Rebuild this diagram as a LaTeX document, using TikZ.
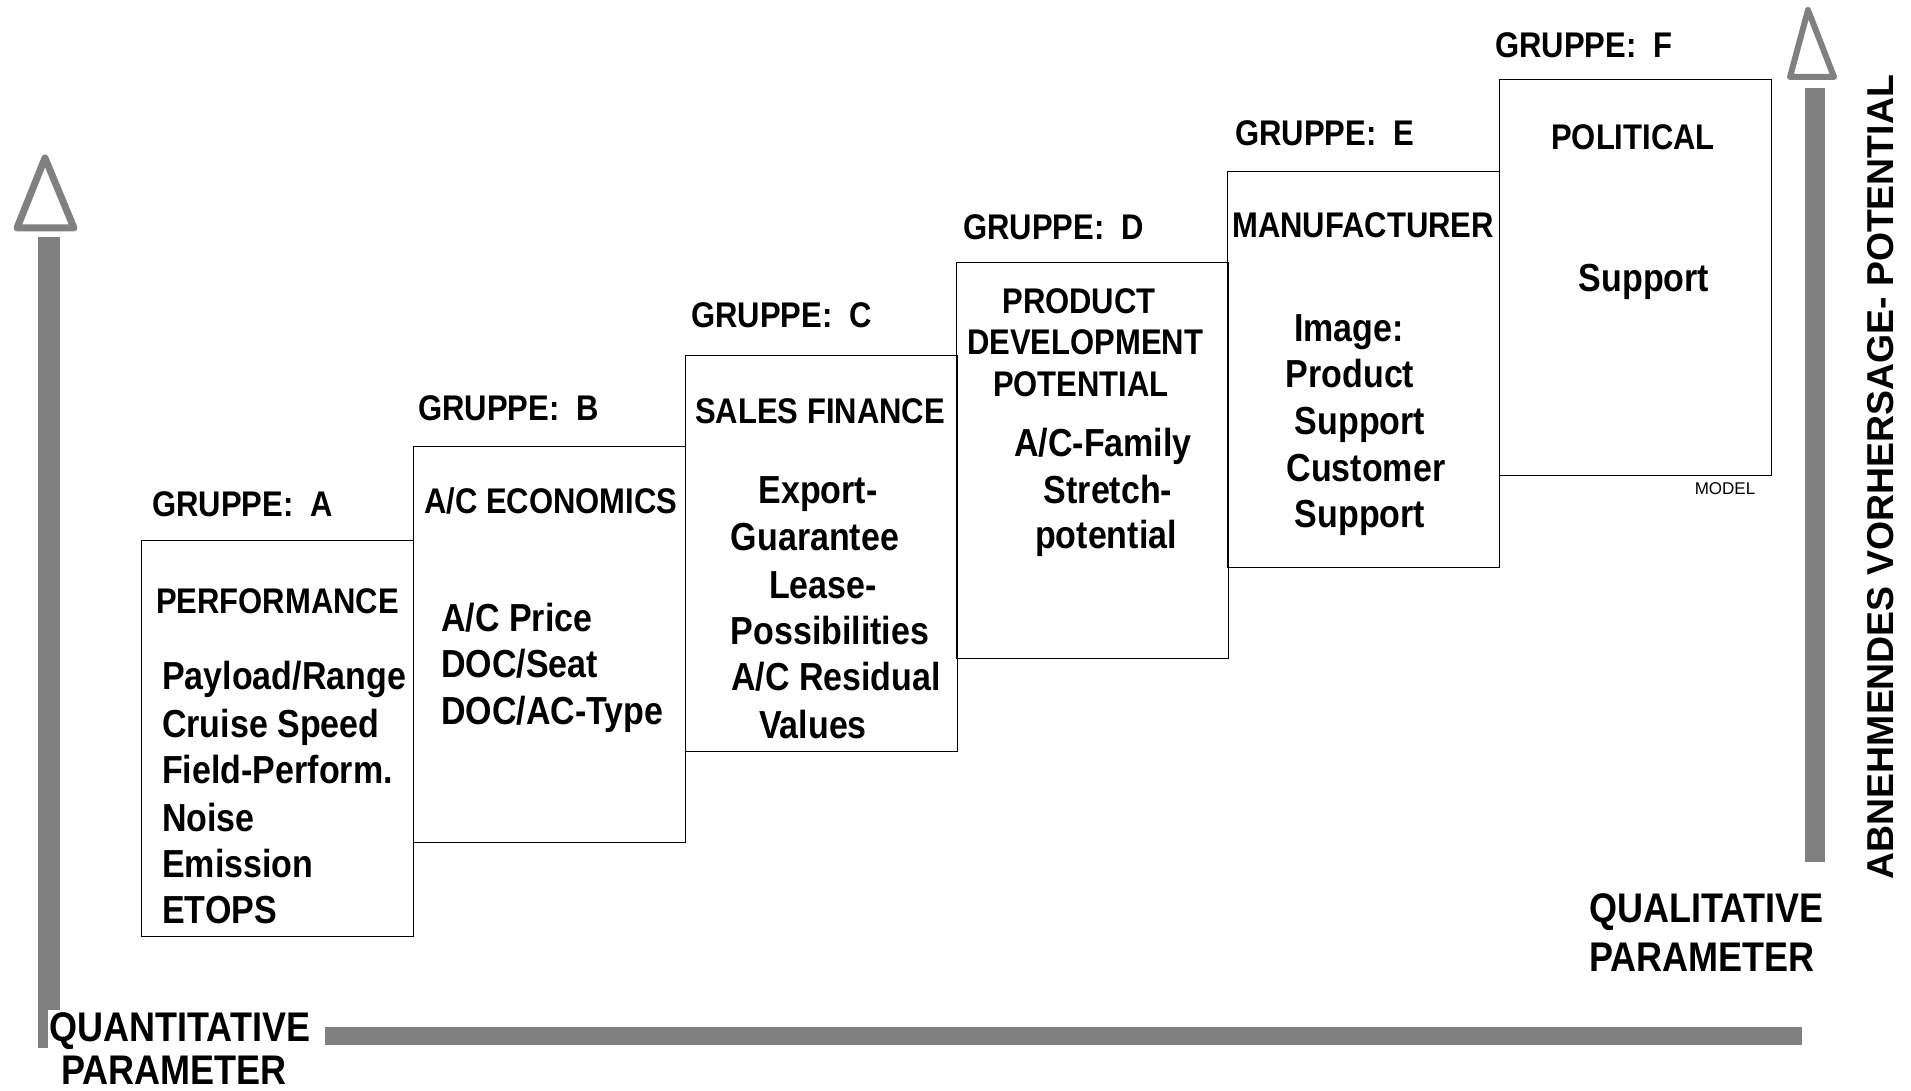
\documentclass[tikz,border=0pt]{standalone}
\usepackage{fontspec}
\setmainfont{Liberation Sans}
\newcommand\vstr[1]{\scalebox{1}[1.15]{#1}}
\begin{document}
\begin{tikzpicture}[x=1pt,y=-1pt,
  box/.style={draw=black, line width=1.4pt, anchor=north west, minimum width=272pt, minimum height=396pt, inner sep=0pt},
  grp/.style={anchor=base west, inner sep=0pt, font=\fontsize{31}{36}\selectfont\bfseries},
  hdr/.style={anchor=base west, inner sep=0pt, font=\fontsize{31}{36}\selectfont\bfseries},
  hdrc/.style={hdr, anchor=base},
  itm/.style={anchor=base west, inner sep=0pt, font=\fontsize{34}{40}\selectfont\bfseries},
  itmc/.style={itm, anchor=base},
  big/.style={anchor=base west, inner sep=0pt, font=\fontsize{36}{42}\selectfont\bfseries},
  shade/.style={fill=black!50, draw=none},
  hollowhead/.style={draw=black!50, line width=7pt, line join=round, fill=white}
]
\useasboundingbox (0,0) rectangle (1911,1091);

% axes
\fill[shade] (38,237) rectangle (60,1048);
\draw[hollowhead] (45,158) -- (74,228) -- (17,228) -- cycle;
\fill[shade] (1805,88) rectangle (1825,862);
\draw[hollowhead, line width=6pt] (1808,10) -- (1834,77) -- (1790,77) -- cycle;
\fill[shade] (325,1027) rectangle (1802,1045);

% boxes
\node[box] (bA) at (141,540) {};
\node[box] (bB) at (413,446) {};
\node[box] (bC) at (685,355) {};
\node[box] (bD) at (956,262) {};
\node[box] (bE) at (1227,171) {};
\node[box] (bF) at (1499,79) {};

% group labels
\node[grp] (gA) at (152,516) {\vstr{GRUPPE:~~A}};
\node[grp] (gB) at (418,420) {\vstr{GRUPPE:~~B}};
\node[grp] (gC) at (691,327) {\vstr{GRUPPE:~~C}};
\node[grp] (gD) at (963,240) {\vstr{GRUPPE:~~D}};
\node[grp] (gE) at (1235,146) {\vstr{GRUPPE:~~E}};
\node[grp] (gF) at (1495,58) {\vstr{GRUPPE:~~F}};

% box A
\node[hdr] (hA) at (156,613) {\vstr{PERFORMANCE}};
\node[itm] (a1) at (162,689) {\vstr{Payload/Range}};
\node[itm] (a2) at (162,737) {\vstr{Cruise Speed}};
\node[itm] (a3) at (162,783) {\vstr{Field-Perform.}};
\node[itm] (a4) at (162,831) {\vstr{Noise}};
\node[itm] (a5) at (162,877) {\vstr{Emission}};
\node[itm] (a6) at (162,923) {\vstr{ETOPS}};

% box B
\node[hdr] (hB) at (424,513) {\vstr{A/C ECONOMICS}};
\node[itm] (b1) at (441,631) {\vstr{A/C Price}};
\node[itm] (b2) at (441,677) {\vstr{DOC/Seat}};
\node[itm] (b3) at (441,724) {\vstr{DOC/AC-Type}};

% box C
\node[hdr] (hC) at (695,423) {\vstr{SALES FINANCE}};
\node[itmc] (c1) at (818,503) {\vstr{Export-}};
\node[itmc] (c2) at (815,550) {\vstr{Guarantee}};
\node[itmc] (c3) at (823,598) {\vstr{Lease-}};
\node[itmc] (c4) at (830,644) {\vstr{Possibilities}};
\node[itmc] (c5) at (836,690) {\vstr{A/C Residual}};
\node[itmc] (c6) at (813,738) {\vstr{Values}};

% box D
\node[hdrc] (hD1) at (1079,313) {\vstr{PRODUCT}};
\node[hdrc] (hD2) at (1085,354) {\vstr{DEVELOPMENT}};
\node[hdrc] (hD3) at (1081,396) {\vstr{POTENTIAL}};
\node[itmc] (d1) at (1103,456) {\vstr{A/C-Family}};
\node[itmc] (d2) at (1108,503) {\vstr{Stretch-}};
\node[itmc] (d3) at (1106,548) {\vstr{potential}};

% box E
\node[hdr] (hE) at (1232,238) {\vstr{MANUFACTURER}};
\node[itmc] (e1) at (1349,341) {\vstr{Image:}};
\node[itmc] (e2) at (1350,387) {\vstr{Product}};
\node[itmc] (e3) at (1360,434) {\vstr{Support}};
\node[itmc] (e4) at (1366,481) {\vstr{Customer}};
\node[itmc] (e5) at (1360,527) {\vstr{Support}};

% box F
\node[hdrc] (hF) at (1633,150) {\vstr{POLITICAL}};
\node[itmc] (f1) at (1644,291) {\vstr{Support}};
\node[anchor=base, inner sep=0pt, font=\fontsize{17}{20}\selectfont] (model) at (1725,494) {MODEL};

% axis labels
\node[big, anchor=base, fill=white, inner sep=2pt] (quant) at (180,1041) {\vstr{QUANTITATIVE}};
\node[big, anchor=base] (quant2) at (174,1084) {\vstr{PARAMETER}};
\node[big] (qual) at (1589,922) {\vstr{QUALITATIVE}};
\node[big] (qual2) at (1589,971) {\vstr{PARAMETER}};
\node[rotate=90, inner sep=0pt, font=\fontsize{34}{40}\selectfont\bfseries] (vert) at (1881,477) {\scalebox{1.1}[1.1]{ABNEHMENDES VORHERSAGE- POTENTIAL}};
\end{tikzpicture}
\end{document}
